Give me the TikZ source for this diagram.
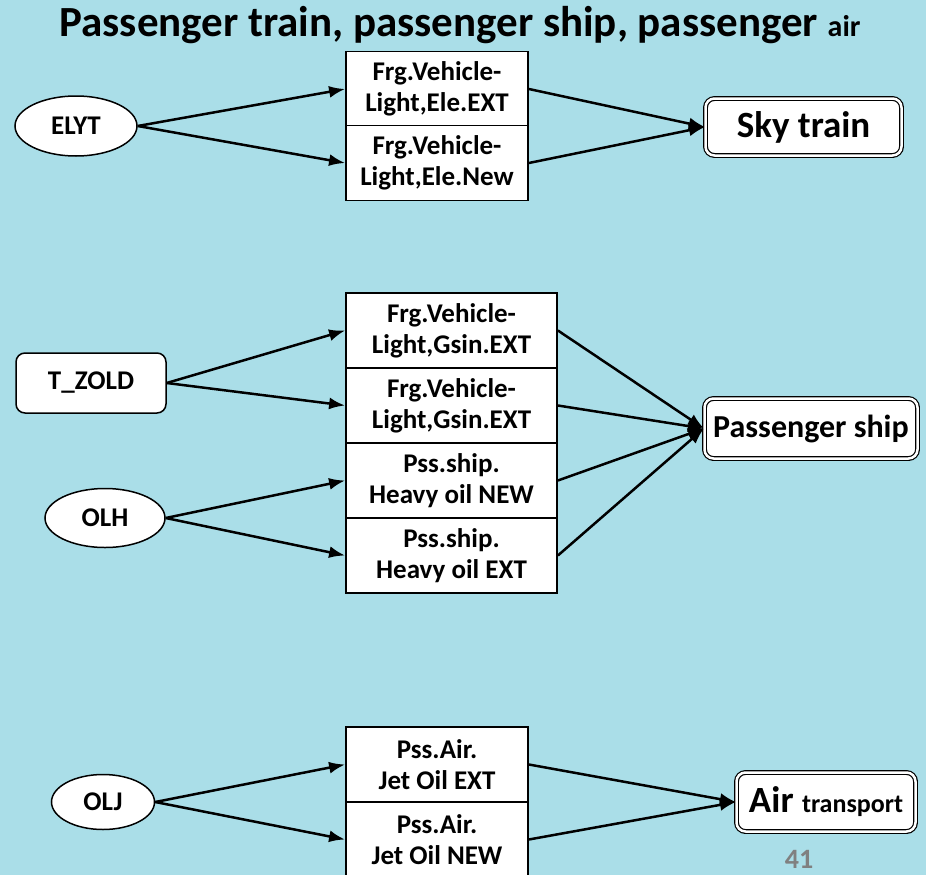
\documentclass[tikz,border=0pt]{standalone}
\usepackage{fontspec}
\setmainfont{Carlito}
\usetikzlibrary{shapes.geometric,arrows.meta}
\definecolor{waterbg}{RGB}{170,222,232}
\definecolor{pagenum}{RGB}{128,128,128}

\begin{document}
\begin{tikzpicture}[x=1pt,y=-1pt,
    src/.style={draw,fill=white,line width=1.5pt,inner sep=0pt,font=\bfseries\fontsize{27}{31}\selectfont},
    fuel/.style={draw,fill=white,line width=1.8pt,inner sep=0pt,minimum height=75pt,align=center,font=\bfseries\fontsize{27}{31}\selectfont},
    sink/.style={draw,fill=white,line width=1.2pt,double,double distance=2.5pt,rounded corners=9pt,inner sep=0pt,font=\bfseries\fontsize{37}{40}\selectfont},
    flow/.style={-{Latex[length=16pt,width=12pt]},line width=2.5pt}]
	\clip (0,0) rectangle (926,875);
	\fill[waterbg] (0,0) rectangle (926,875);

	% title
	\node[anchor=base] (title) at (460,37) {\bfseries\fontsize{43}{46}\selectfont Passenger train, passenger ship, passenger {\fontsize{30}{32}\selectfont air}};

	% sky train
	\node[src,ellipse,minimum width=122pt,minimum height=60pt] (elyt) at (76,126) {ELYT};
	\node[fuel,minimum width=182pt] (eleext) at (437,89) {Frg.Vehicle-\\Light,Ele.EXT};
	\node[fuel,minimum width=182pt] (elenew) at (437,163) {Frg.Vehicle-\\Light,Ele.New};
	\node[sink,minimum width=196pt,minimum height=57pt] (sky) at (803.5,127) {Sky train};
	\draw[flow] (elyt.east) -- (eleext.west);
	\draw[flow] (elyt.east) -- (elenew.west);
	\draw[flow] (eleext.east) -- (sky.west);
	\draw[flow] (elenew.east) -- (sky.west);

	% passenger ship
	\node[src,rectangle,rounded corners=9pt,minimum width=150pt,minimum height=60pt] (tzold) at (91,383) {T\_ZOLD};
	\node[src,ellipse,minimum width=120pt,minimum height=59pt] (olh) at (105,518) {OLH};
	\node[fuel,minimum width=211pt] (gsin1) at (451.5,330.5) {Frg.Vehicle-\\Light,Gsin.EXT};
	\node[fuel,minimum width=211pt] (gsin2) at (451.5,405.5) {Frg.Vehicle-\\Light,Gsin.EXT};
	\node[fuel,minimum width=211pt] (hvynew) at (451.5,480.5) {Pss.ship.\\Heavy oil NEW};
	\node[fuel,minimum width=211pt] (hvyext) at (451.5,555.5) {Pss.ship.\\Heavy oil EXT};
	\node[sink,minimum width=213pt,minimum height=60pt] (ship) at (811,428.5) {\fontsize{32}{35}\selectfont Passenger ship};
	\draw[flow] (tzold.east) -- (gsin1.west);
	\draw[flow] (tzold.east) -- (gsin2.west);
	\draw[flow] (olh.east) -- (hvynew.west);
	\draw[flow] (olh.east) -- (hvyext.west);
	\draw[flow] (gsin1.east) -- (ship.west);
	\draw[flow] (gsin2.east) -- (ship.west);
	\draw[flow] (hvynew.east) -- (ship.west);
	\draw[flow] (hvyext.east) -- (ship.west);

	% air
	\node[src,ellipse,minimum width=103pt,minimum height=55pt] (olj) at (103,802) {OLJ};
	\node[fuel,minimum width=182pt] (jetext) at (437,764.5) {Pss.Air.\\Jet Oil EXT};
	\node[fuel,minimum width=182pt] (jetnew) at (437,839.5) {Pss.Air.\\Jet Oil NEW};
	\node[sink,minimum width=179pt,minimum height=59pt] (air) at (826,802) {Air {\fontsize{26}{29}\selectfont transport}};
	\draw[flow] (olj.east) -- (jetext.west);
	\draw[flow] (olj.east) -- (jetnew.west);
	\draw[flow] (jetext.east) -- (air.west);
	\draw[flow] (jetnew.east) -- (air.west);

	\node[text=pagenum,anchor=base,inner sep=0pt,font=\bfseries\fontsize{28}{30}\selectfont] (page) at (799,868) {41};
\end{tikzpicture}
\end{document}
